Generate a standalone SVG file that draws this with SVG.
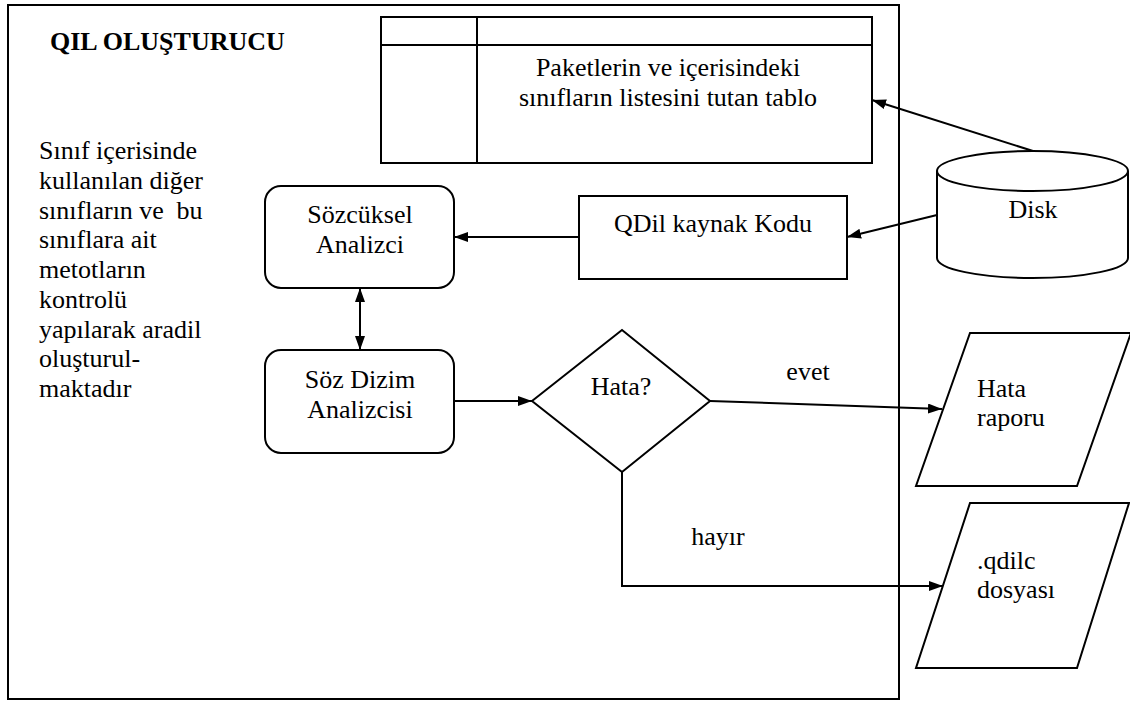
<svg xmlns="http://www.w3.org/2000/svg" width="1130" height="702" viewBox="0 0 1130 702">
<style>
text{font-size:26px;fill:#000}
.s{fill:#fff;stroke:#000;stroke-width:2}
.c{fill:none;stroke:#000;stroke-width:2}
.m{text-anchor:middle}
</style>
<defs>
<marker id="ah" viewBox="0 0 14 10" refX="14" refY="5" markerWidth="14" markerHeight="10" markerUnits="userSpaceOnUse" orient="auto-start-reverse"><path d="M0,0 L14,5 L0,10 z" fill="#000"/></marker>
</defs>
<rect width="1130" height="702" fill="#fff"/>
<g id="frame">
<rect x="8" y="5" width="891" height="694" fill="none" stroke="#000" stroke-width="2"/>
<text x="50" y="50" font-weight="bold" font-family="Liberation Serif">QIL OLUŞTURUCU</text>
</g>
<g id="note">
<text x="39" y="159" font-family="Times New Roman">Sınıf içerisinde</text>
<text x="39" y="189" font-family="Times New Roman">kullanılan diğer</text>
<text x="39" y="219" font-family="Times New Roman">sınıfların ve <tspan dx="6">bu</tspan></text>
<text x="39" y="248" font-family="Times New Roman">sınıflara ait</text>
<text x="39" y="278" font-family="Times New Roman">metotların</text>
<text x="39" y="308" font-family="Times New Roman">kontrolü</text>
<text x="39" y="338" font-family="Times New Roman">yapılarak aradil</text>
<text x="39" y="367" font-family="Times New Roman">oluşturul-</text>
<text x="39" y="397" font-family="Times New Roman">maktadır</text>
</g>
<g id="table">
<rect class="s" x="381" y="17" width="491" height="146"/>
<line class="c" x1="381" y1="45" x2="872" y2="45"/>
<line class="c" x1="477" y1="17" x2="477" y2="163"/>
<text class="m" x="668" y="76" font-family="Times New Roman">Paketlerin ve içerisindeki</text>
<text class="m" x="668" y="106" font-family="Times New Roman">sınıfların listesini tutan tablo</text>
</g>
<g id="disk">
<path class="s" d="M937,171 L937,258 A95.5,20 0 0 0 1128,258 L1128,171 A95.5,20 0 0 0 937,171 Z"/>
<path class="c" d="M937,171 A95.5,20 0 0 0 1128,171"/>
<text class="m" x="1033" y="218" font-family="Times New Roman">Disk</text>
</g>
<g id="qdil">
<rect class="s" x="579" y="196" width="268" height="83"/>
<text class="m" x="713" y="232" font-family="Times New Roman">QDil kaynak Kodu</text>
</g>
<g id="sozcuksel">
<rect class="s" x="265" y="186" width="189" height="102" rx="16"/>
<text class="m" x="360" y="223" font-family="Times New Roman">Sözcüksel</text>
<text class="m" x="360" y="253" font-family="Times New Roman">Analizci</text>
</g>
<g id="sozdizim">
<rect class="s" x="265" y="350" width="189" height="103" rx="16"/>
<text class="m" x="360" y="388" font-family="Times New Roman">Söz Dizim</text>
<text class="m" x="360" y="418" font-family="Times New Roman">Analizcisi</text>
</g>
<g id="hata">
<polygon class="s" points="532,401 622,330 710,401 622,472"/>
<text class="m" x="621" y="395" font-family="Times New Roman">Hata?</text>
</g>
<g id="hatarapor">
<polygon class="s" points="970,333 1131,333 1077,486 916,486"/>
<text x="977" y="397" font-family="Times New Roman">Hata</text>
<text x="977" y="426" font-family="Times New Roman">raporu</text>
</g>
<g id="qdilc">
<polygon class="s" points="970,503 1129,503 1077,668 916,668"/>
<text x="977" y="569" font-family="Times New Roman">.qdilc</text>
<text x="977" y="598" font-family="Times New Roman">dosyası</text>
</g>
<g id="connectors">
<line class="c" x1="1033" y1="151" x2="872" y2="100" marker-end="url(#ah)"/>
<line class="c" x1="937" y1="215" x2="847" y2="237" marker-end="url(#ah)"/>
<line class="c" x1="579" y1="237" x2="454" y2="237" marker-end="url(#ah)"/>
<line class="c" x1="360" y1="288" x2="360" y2="350" marker-start="url(#ah)" marker-end="url(#ah)"/>
<line class="c" x1="454" y1="401" x2="532" y2="401" marker-end="url(#ah)"/>
<line class="c" x1="710" y1="401" x2="942" y2="409" marker-end="url(#ah)"/>
<polyline class="c" points="622,472 622,586 943,586" marker-end="url(#ah)"/>
<text class="m" x="808" y="380" font-family="Times New Roman">evet</text>
<text class="m" x="718" y="545" font-family="Times New Roman">hayır</text>
</g>
</svg>
